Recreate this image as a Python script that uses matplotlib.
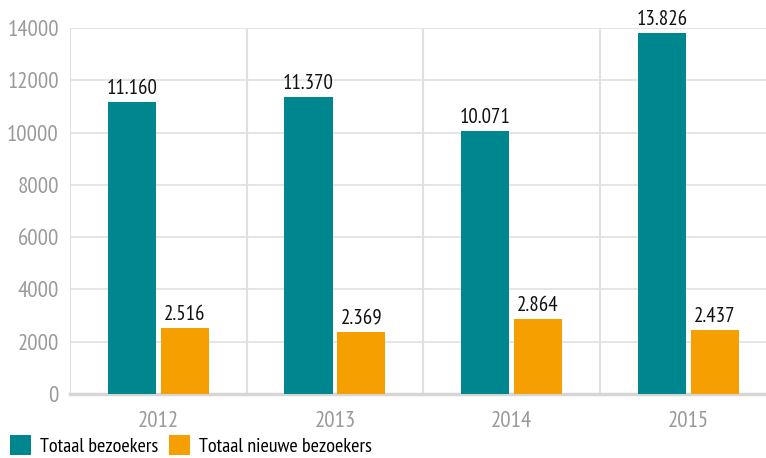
import matplotlib.pyplot as plt
import numpy as np
from matplotlib import font_manager

years = ["2012", "2013", "2014", "2015"]
totaal = [11160, 11370, 10071, 13826]
nieuw = [2516, 2369, 2864, 2437]
totaal_labels = ["11.160", "11.370", "10.071", "13.826"]
nieuw_labels = ["2.516", "2.369", "2.864", "2.437"]

names = set(f.name for f in font_manager.fontManager.ttflist)
fam = "DejaVu Sans"
for cand in ["PT Sans Narrow", "Fira Sans Condensed", "Roboto Condensed",
             "Archivo Narrow", "TeX Gyre Heros Cn", "Liberation Sans Narrow"]:
    if cand in names:
        fam = cand
        break
plt.rcParams['font.family'] = [fam, 'DejaVu Sans']

teal = "#00868F"
orange = "#F5A000"
grid = "#e0e0e0"

fig = plt.figure(figsize=(7.66, 4.58), dpi=100)
ax = fig.add_axes([70 / 766, 1 - 394 / 458, 1 - 70 / 766, (394 - 28) / 458])

x = np.arange(len(years))
w = 0.272
b1 = ax.bar(x - 0.15, totaal, w, color=teal, zorder=3)
b2 = ax.bar(x + 0.15, nieuw, w, color=orange, zorder=3)

for rect, lab in zip(b1, totaal_labels):
    ax.text(rect.get_x() + rect.get_width() / 2, rect.get_height() + 150, lab,
            ha='center', va='bottom', fontsize=15, color='#111111')
for rect, lab in zip(b2, nieuw_labels):
    ax.text(rect.get_x() + rect.get_width() / 2, rect.get_height() + 150, lab,
            ha='center', va='bottom', fontsize=15, color='#111111')

ax.set_ylim(0, 14000)
ax.set_xlim(-0.5, 3.44)
ax.set_yticks(range(0, 14001, 2000))
ax.set_xticks(x)
ax.set_xticklabels(years)
for v in range(2000, 14001, 2000):
    ax.axhline(v, color=grid, lw=1.2, zorder=1)
for v in np.arange(-0.5, 3.6, 1.0):
    ax.axvline(v, color=grid, lw=1.5, zorder=1)
ax.axhline(0, color="#d6d6d6", lw=2.5, zorder=2, clip_on=False)

for s in ax.spines.values():
    s.set_visible(False)
ax.tick_params(axis='both', length=0, labelsize=16.5, colors='#9a9a9a')
ax.tick_params(axis='x', pad=12)
ax.tick_params(axis='y', pad=8)

leg = ax.legend([b1, b2], ["Totaal bezoekers", "Totaal nieuwe bezoekers"],
                loc='lower left', bbox_to_anchor=(-62 / 696, -0.175), ncol=2,
                frameon=False, fontsize=14.5, handlelength=1.05, handleheight=1.15,
                handletextpad=0.45, columnspacing=0.5, borderaxespad=0, borderpad=0.1)

fig.savefig("out.png", dpi=100)
